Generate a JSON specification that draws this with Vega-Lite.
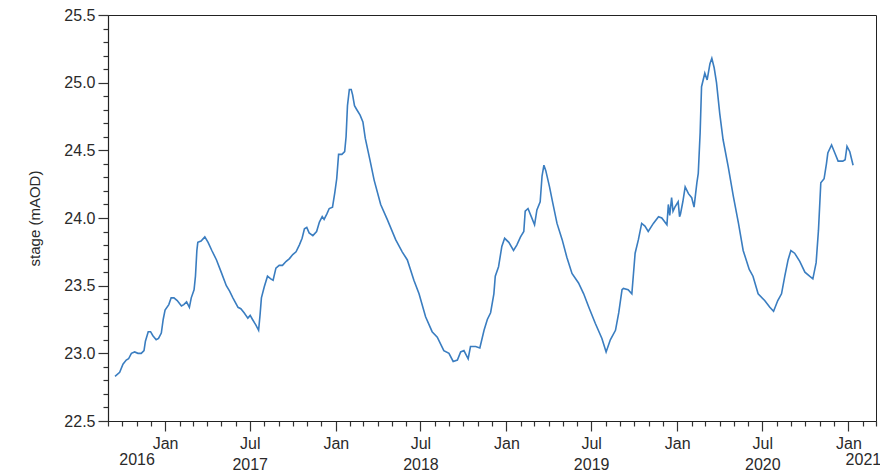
{
  "$schema": "https://vega.github.io/schema/vega-lite/v6.json",
  "width": 768,
  "height": 406,
  "autosize": {"type": "none"},
  "padding": {"left": 108, "top": 15, "right": 4, "bottom": 53},
  "background": "white",
  "config": {
    "view": {"stroke": "#222", "strokeWidth": 1},
    "font": "Liberation Sans",
    "axis": {
      "labelFont": "Liberation Sans",
      "titleFont": "Liberation Sans",
      "labelColor": "#2a2a2a",
      "titleColor": "#2a2a2a",
      "domainColor": "#222",
      "tickColor": "#333",
      "grid": false,
      "labelFlush": false,
      "labelOverlap": false,
      "labelBound": false
    }
  },
  "data": {
    "values": [
      {"date": "2016-09-16", "stage": 22.83},
      {"date": "2016-09-26", "stage": 22.86},
      {"date": "2016-10-03", "stage": 22.92},
      {"date": "2016-10-10", "stage": 22.95},
      {"date": "2016-10-15", "stage": 22.96},
      {"date": "2016-10-21", "stage": 23.0},
      {"date": "2016-10-28", "stage": 23.01},
      {"date": "2016-11-04", "stage": 23.0},
      {"date": "2016-11-11", "stage": 23.0},
      {"date": "2016-11-17", "stage": 23.02},
      {"date": "2016-11-20", "stage": 23.09},
      {"date": "2016-11-26", "stage": 23.16},
      {"date": "2016-12-01", "stage": 23.16},
      {"date": "2016-12-06", "stage": 23.13},
      {"date": "2016-12-13", "stage": 23.1},
      {"date": "2016-12-18", "stage": 23.11},
      {"date": "2016-12-24", "stage": 23.15},
      {"date": "2016-12-28", "stage": 23.25},
      {"date": "2017-01-01", "stage": 23.32},
      {"date": "2017-01-09", "stage": 23.36},
      {"date": "2017-01-14", "stage": 23.41},
      {"date": "2017-01-20", "stage": 23.41},
      {"date": "2017-01-27", "stage": 23.39},
      {"date": "2017-02-05", "stage": 23.35},
      {"date": "2017-02-10", "stage": 23.36},
      {"date": "2017-02-16", "stage": 23.38},
      {"date": "2017-02-22", "stage": 23.34},
      {"date": "2017-02-26", "stage": 23.41},
      {"date": "2017-03-04", "stage": 23.47},
      {"date": "2017-03-07", "stage": 23.57},
      {"date": "2017-03-10", "stage": 23.76},
      {"date": "2017-03-12", "stage": 23.82},
      {"date": "2017-03-19", "stage": 23.83},
      {"date": "2017-03-27", "stage": 23.86},
      {"date": "2017-04-03", "stage": 23.82},
      {"date": "2017-04-11", "stage": 23.76},
      {"date": "2017-04-21", "stage": 23.69},
      {"date": "2017-05-01", "stage": 23.6},
      {"date": "2017-05-12", "stage": 23.5},
      {"date": "2017-05-19", "stage": 23.46},
      {"date": "2017-05-26", "stage": 23.41},
      {"date": "2017-06-06", "stage": 23.34},
      {"date": "2017-06-12", "stage": 23.33},
      {"date": "2017-06-19", "stage": 23.3},
      {"date": "2017-06-27", "stage": 23.26},
      {"date": "2017-07-02", "stage": 23.28},
      {"date": "2017-07-07", "stage": 23.25},
      {"date": "2017-07-14", "stage": 23.21},
      {"date": "2017-07-20", "stage": 23.17},
      {"date": "2017-07-23", "stage": 23.28},
      {"date": "2017-07-26", "stage": 23.41},
      {"date": "2017-08-01", "stage": 23.49},
      {"date": "2017-08-08", "stage": 23.57},
      {"date": "2017-08-15", "stage": 23.55},
      {"date": "2017-08-20", "stage": 23.54},
      {"date": "2017-08-26", "stage": 23.63},
      {"date": "2017-09-02", "stage": 23.65},
      {"date": "2017-09-09", "stage": 23.65},
      {"date": "2017-09-17", "stage": 23.68},
      {"date": "2017-09-24", "stage": 23.7},
      {"date": "2017-10-01", "stage": 23.73},
      {"date": "2017-10-08", "stage": 23.75},
      {"date": "2017-10-15", "stage": 23.8},
      {"date": "2017-10-21", "stage": 23.85},
      {"date": "2017-10-26", "stage": 23.92},
      {"date": "2017-10-31", "stage": 23.93},
      {"date": "2017-11-05", "stage": 23.89},
      {"date": "2017-11-13", "stage": 23.87},
      {"date": "2017-11-21", "stage": 23.9},
      {"date": "2017-11-27", "stage": 23.97},
      {"date": "2017-12-03", "stage": 24.01},
      {"date": "2017-12-07", "stage": 23.99},
      {"date": "2017-12-13", "stage": 24.03},
      {"date": "2017-12-18", "stage": 24.07},
      {"date": "2017-12-25", "stage": 24.08},
      {"date": "2017-12-30", "stage": 24.19},
      {"date": "2018-01-03", "stage": 24.29},
      {"date": "2018-01-07", "stage": 24.47},
      {"date": "2018-01-14", "stage": 24.47},
      {"date": "2018-01-20", "stage": 24.49},
      {"date": "2018-01-23", "stage": 24.6},
      {"date": "2018-01-26", "stage": 24.83},
      {"date": "2018-01-30", "stage": 24.95},
      {"date": "2018-02-03", "stage": 24.95},
      {"date": "2018-02-06", "stage": 24.91},
      {"date": "2018-02-10", "stage": 24.83},
      {"date": "2018-02-15", "stage": 24.8},
      {"date": "2018-02-22", "stage": 24.76},
      {"date": "2018-02-28", "stage": 24.71},
      {"date": "2018-03-05", "stage": 24.59},
      {"date": "2018-03-15", "stage": 24.43},
      {"date": "2018-03-24", "stage": 24.28},
      {"date": "2018-04-07", "stage": 24.1},
      {"date": "2018-04-21", "stage": 23.99},
      {"date": "2018-05-09", "stage": 23.84},
      {"date": "2018-05-23", "stage": 23.75},
      {"date": "2018-06-03", "stage": 23.69},
      {"date": "2018-06-17", "stage": 23.54},
      {"date": "2018-06-28", "stage": 23.44},
      {"date": "2018-07-12", "stage": 23.27},
      {"date": "2018-07-26", "stage": 23.16},
      {"date": "2018-08-06", "stage": 23.12},
      {"date": "2018-08-20", "stage": 23.02},
      {"date": "2018-08-31", "stage": 23.0},
      {"date": "2018-09-09", "stage": 22.94},
      {"date": "2018-09-18", "stage": 22.95},
      {"date": "2018-09-25", "stage": 23.01},
      {"date": "2018-10-02", "stage": 23.02},
      {"date": "2018-10-11", "stage": 22.96},
      {"date": "2018-10-16", "stage": 23.05},
      {"date": "2018-10-27", "stage": 23.05},
      {"date": "2018-11-05", "stage": 23.04},
      {"date": "2018-11-14", "stage": 23.17},
      {"date": "2018-11-21", "stage": 23.25},
      {"date": "2018-11-28", "stage": 23.3},
      {"date": "2018-12-05", "stage": 23.44},
      {"date": "2018-12-08", "stage": 23.57},
      {"date": "2018-12-15", "stage": 23.64},
      {"date": "2018-12-22", "stage": 23.79},
      {"date": "2018-12-28", "stage": 23.85},
      {"date": "2019-01-06", "stage": 23.82},
      {"date": "2019-01-16", "stage": 23.76},
      {"date": "2019-01-23", "stage": 23.8},
      {"date": "2019-01-31", "stage": 23.86},
      {"date": "2019-02-07", "stage": 23.9},
      {"date": "2019-02-10", "stage": 24.05},
      {"date": "2019-02-16", "stage": 24.07},
      {"date": "2019-02-23", "stage": 24.01},
      {"date": "2019-03-02", "stage": 23.95},
      {"date": "2019-03-07", "stage": 24.06},
      {"date": "2019-03-14", "stage": 24.12},
      {"date": "2019-03-18", "stage": 24.31},
      {"date": "2019-03-22", "stage": 24.39},
      {"date": "2019-03-26", "stage": 24.35},
      {"date": "2019-04-03", "stage": 24.23},
      {"date": "2019-04-10", "stage": 24.11},
      {"date": "2019-04-19", "stage": 23.96},
      {"date": "2019-04-30", "stage": 23.84},
      {"date": "2019-05-10", "stage": 23.71},
      {"date": "2019-05-21", "stage": 23.59},
      {"date": "2019-06-04", "stage": 23.52},
      {"date": "2019-06-15", "stage": 23.44},
      {"date": "2019-06-26", "stage": 23.34},
      {"date": "2019-07-10", "stage": 23.22},
      {"date": "2019-07-24", "stage": 23.11},
      {"date": "2019-08-02", "stage": 23.01},
      {"date": "2019-08-11", "stage": 23.1},
      {"date": "2019-08-22", "stage": 23.17},
      {"date": "2019-08-29", "stage": 23.3},
      {"date": "2019-09-05", "stage": 23.47},
      {"date": "2019-09-08", "stage": 23.48},
      {"date": "2019-09-18", "stage": 23.47},
      {"date": "2019-09-26", "stage": 23.44},
      {"date": "2019-10-03", "stage": 23.74},
      {"date": "2019-10-10", "stage": 23.84},
      {"date": "2019-10-17", "stage": 23.96},
      {"date": "2019-10-24", "stage": 23.94},
      {"date": "2019-10-31", "stage": 23.9},
      {"date": "2019-11-11", "stage": 23.96},
      {"date": "2019-11-22", "stage": 24.01},
      {"date": "2019-11-29", "stage": 24.0},
      {"date": "2019-12-10", "stage": 23.95},
      {"date": "2019-12-13", "stage": 24.1},
      {"date": "2019-12-16", "stage": 24.02},
      {"date": "2019-12-20", "stage": 24.15},
      {"date": "2019-12-23", "stage": 24.05},
      {"date": "2019-12-27", "stage": 24.08},
      {"date": "2020-01-03", "stage": 24.12},
      {"date": "2020-01-06", "stage": 24.01},
      {"date": "2020-01-08", "stage": 24.03},
      {"date": "2020-01-13", "stage": 24.12},
      {"date": "2020-01-18", "stage": 24.23},
      {"date": "2020-01-25", "stage": 24.18},
      {"date": "2020-02-01", "stage": 24.15},
      {"date": "2020-02-06", "stage": 24.08},
      {"date": "2020-02-12", "stage": 24.26},
      {"date": "2020-02-15", "stage": 24.33},
      {"date": "2020-02-19", "stage": 24.63},
      {"date": "2020-02-22", "stage": 24.97},
      {"date": "2020-02-29", "stage": 25.07},
      {"date": "2020-03-05", "stage": 25.02},
      {"date": "2020-03-11", "stage": 25.14},
      {"date": "2020-03-15", "stage": 25.18},
      {"date": "2020-03-20", "stage": 25.11},
      {"date": "2020-03-25", "stage": 25.0},
      {"date": "2020-04-01", "stage": 24.77},
      {"date": "2020-04-08", "stage": 24.58},
      {"date": "2020-04-19", "stage": 24.38},
      {"date": "2020-04-30", "stage": 24.16},
      {"date": "2020-05-11", "stage": 23.96},
      {"date": "2020-05-21", "stage": 23.76},
      {"date": "2020-06-03", "stage": 23.62},
      {"date": "2020-06-11", "stage": 23.57},
      {"date": "2020-06-22", "stage": 23.44},
      {"date": "2020-07-06", "stage": 23.39},
      {"date": "2020-07-17", "stage": 23.34},
      {"date": "2020-07-25", "stage": 23.31},
      {"date": "2020-08-03", "stage": 23.39},
      {"date": "2020-08-11", "stage": 23.44},
      {"date": "2020-08-18", "stage": 23.57},
      {"date": "2020-08-25", "stage": 23.69},
      {"date": "2020-08-31", "stage": 23.76},
      {"date": "2020-09-08", "stage": 23.74},
      {"date": "2020-09-19", "stage": 23.68},
      {"date": "2020-09-30", "stage": 23.6},
      {"date": "2020-10-10", "stage": 23.57},
      {"date": "2020-10-17", "stage": 23.55},
      {"date": "2020-10-24", "stage": 23.67},
      {"date": "2020-10-29", "stage": 23.91},
      {"date": "2020-11-03", "stage": 24.26},
      {"date": "2020-11-10", "stage": 24.29},
      {"date": "2020-11-15", "stage": 24.4},
      {"date": "2020-11-18", "stage": 24.48},
      {"date": "2020-11-26", "stage": 24.54},
      {"date": "2020-12-03", "stage": 24.48},
      {"date": "2020-12-10", "stage": 24.42},
      {"date": "2020-12-20", "stage": 24.42},
      {"date": "2020-12-25", "stage": 24.43},
      {"date": "2020-12-29", "stage": 24.53},
      {"date": "2021-01-04", "stage": 24.49},
      {"date": "2021-01-11", "stage": 24.39}
    ]
  },
  "mark": {"type": "line", "color": "#3a7dc0", "strokeWidth": 1.6, "interpolate": "linear"},
  "encoding": {
    "x": {
      "field": "date",
      "type": "temporal",
      "scale": {
        "type": "utc",
        "domain": [
          {"year": 2016, "month": 9, "date": 1, "utc": true},
          {"year": 2021, "month": 3, "date": 1, "utc": true}
        ],
        "nice": false
      },
      "axis": {
        "title": null,
        "tickCount": {"interval": "month", "step": 1},
        "labelFontSize": 16,
        "labelLineHeight": 21,
        "labelPadding": 4,
        "labelAlign": "center",
        "labelBaseline": "top",
        "labelExpr": "utcmonth(datum.value)==0 ? 'Jan' : utcmonth(datum.value)==6 ? ['Jul', utcFormat(datum.value, '%Y')] : (utcmonth(datum.value)==10 && utcyear(datum.value)==2016) ? ['', '2016'] : (utcmonth(datum.value)==1 && utcyear(datum.value)==2021) ? ['', '2021'] : ''",
        "tickSize": {"condition": {"test": "utcmonth(datum.value)==0 || utcmonth(datum.value)==6", "value": 10}, "value": 5},
        "tickWidth": 1.2,
        "domainWidth": 1.2
      }
    },
    "y": {
      "field": "stage",
      "type": "quantitative",
      "scale": {"domain": [22.5, 25.5], "nice": false, "zero": false},
      "axis": {
        "title": "stage (mAOD)",
        "titleFontSize": 15,
        "titleFontWeight": "normal",
        "titlePadding": 21,
        "values": [22.5, 22.6, 22.7, 22.8, 22.9, 23.0, 23.1, 23.2, 23.3, 23.4, 23.5, 23.6, 23.7, 23.8, 23.9, 24.0, 24.1, 24.2, 24.3, 24.4, 24.5, 24.6, 24.7, 24.8, 24.9, 25.0, 25.1, 25.2, 25.3, 25.4, 25.5],
        "labelFontSize": 16,
        "labelPadding": 3,
        "labelExpr": "abs(datum.value*2 - round(datum.value*2)) < 0.001 ? format(datum.value, '.1f') : ''",
        "tickSize": {"condition": {"test": "abs(datum.value*2 - round(datum.value*2)) < 0.001", "value": 10}, "value": 5},
        "tickWidth": 1.2,
        "domainWidth": 1.2
      }
    }
  }
}
